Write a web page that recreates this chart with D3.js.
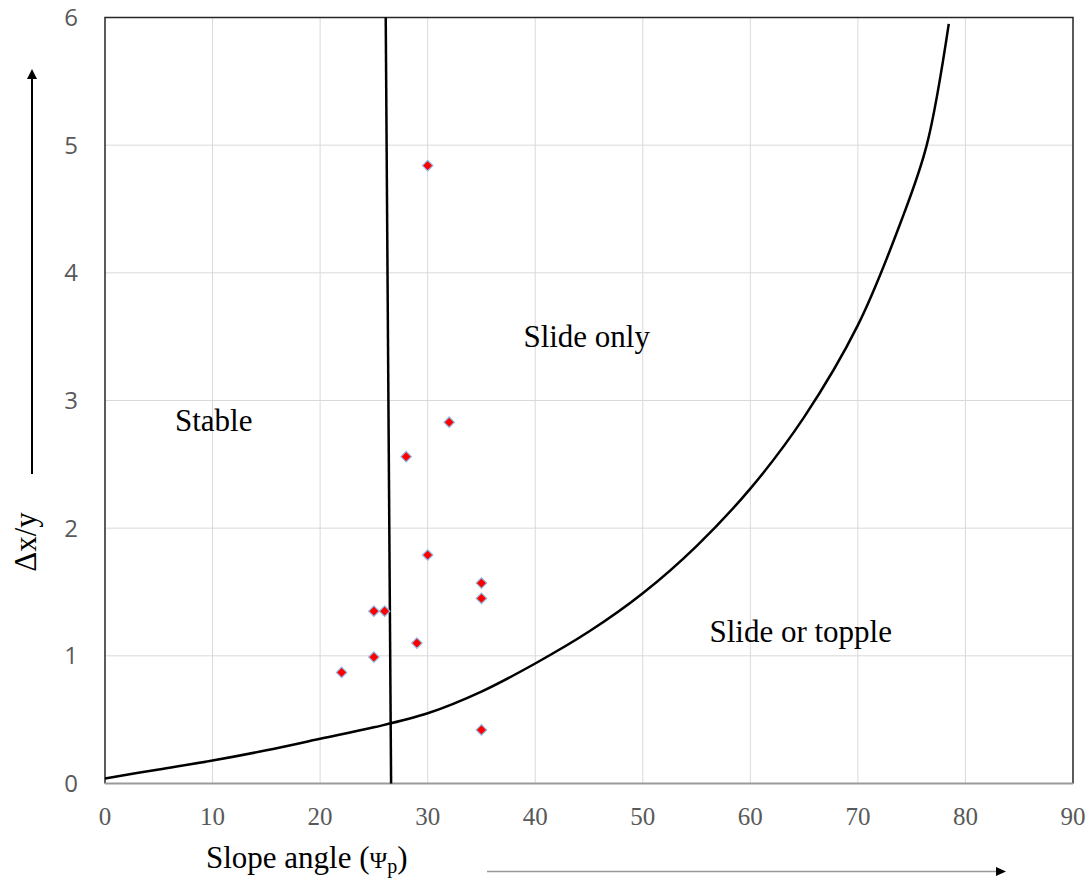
<!DOCTYPE html>
<html lang="en">
<head>
  <meta charset="UTF-8">
  <title>Slope angle vs dx/y</title>
  <script src="https://d3js.org/d3.v7.min.js"></script>
  <style>
    body { margin: 0; background: #fff; }
    svg { display: block; }
  </style>
</head>
<body>
<div id="chart"></div>
<script>
  // measured points (slope angle, dx/y)
  const pointAngles = [30, 32, 28, 30, 35, 35, 25, 26, 29, 25, 22, 35];
  const pointRatios = [4.84, 2.83, 2.56, 1.79, 1.57, 1.45, 1.35, 1.35, 1.10, 0.99, 0.87, 0.42];

  // topple boundary curve
  const curveAngles = [0, 5, 10, 15, 20, 25, 30, 35, 40, 45, 50, 55, 60, 65, 70, 74, 76.4, 78.45];
  const curveRatios = [0.04, 0.11, 0.18, 0.26, 0.35, 0.44, 0.55, 0.72, 0.94, 1.19, 1.49, 1.86, 2.31, 2.87, 3.59, 4.4, 5.0, 5.95];

  // slide boundary (near vertical)
  const slideAngles = [26.6, 26.1];
  const slideRatios = [0, 6];

  const xTicks = [0, 10, 20, 30, 40, 50, 60, 70, 80, 90];
  const yTicks = [0, 1, 2, 3, 4, 5, 6];

  const regionNames = ["Stable", "Slide only", "Slide or topple"];
  const regionAngles = [6.5, 38.9, 56.2];
  const regionRatios = [2.76, 3.42, 1.11];

  const width = 1091, height = 881;
  const margin = {top: 17.5, right: 18, bottom: 97.5, left: 105};

  const svg = d3.select("#chart").append("svg")
    .attr("width", width)
    .attr("height", height);

  const x = d3.scaleLinear().domain([0, 90]).range([margin.left, width - margin.right]);
  const y = d3.scaleLinear().domain([0, 6]).range([height - margin.bottom, margin.top]);

  // gridlines
  svg.append("g")
    .selectAll("line")
    .data(xTicks.slice(1, -1))
    .join("line")
    .attr("x1", d => x(d)).attr("x2", d => x(d))
    .attr("y1", y(0)).attr("y2", y(6))
    .attr("stroke", "#d9d9d9").attr("stroke-width", 1);

  svg.append("g")
    .selectAll("line")
    .data(yTicks.slice(1, -1))
    .join("line")
    .attr("x1", x(0)).attr("x2", x(90))
    .attr("y1", d => y(d)).attr("y2", d => y(d))
    .attr("stroke", "#d9d9d9").attr("stroke-width", 1);

  // plot area border
  svg.append("path")
    .attr("d", `M${x(0)},${y(0)}V${y(6)}H${x(90)}V${y(0)}`)
    .attr("fill", "none")
    .attr("stroke", "#262626")
    .attr("stroke-width", 1.5);

  // x axis line
  svg.append("line")
    .attr("x1", x(0)).attr("x2", x(90))
    .attr("y1", y(0)).attr("y2", y(0))
    .attr("stroke", "#9a9a9a").attr("stroke-width", 2);

  // tick labels
  svg.append("g")
    .selectAll("text")
    .data(xTicks)
    .join("text")
    .attr("x", d => x(d))
    .attr("y", 825)
    .attr("text-anchor", "middle")
    .style("font", "25px 'Liberation Serif', 'Times New Roman', serif")
    .style("fill", "#595959")
    .text(d => d);

  svg.append("g")
    .selectAll("text")
    .data(yTicks)
    .join("text")
    .attr("x", 78)
    .attr("y", d => y(d))
    .attr("dy", "0.36em")
    .attr("text-anchor", "end")
    .style("font", "24px 'Open Sans', sans-serif")
    .style("fill", "#595959")
    .text(d => d);

  // boundary lines
  svg.append("path")
    .datum(d3.zip(slideAngles, slideRatios))
    .attr("d", d3.line().x(d => x(d[0])).y(d => y(d[1])))
    .attr("fill", "none")
    .attr("stroke", "#000")
    .attr("stroke-width", 2.5);

  svg.append("path")
    .datum(d3.zip(curveAngles, curveRatios))
    .attr("d", d3.line().x(d => x(d[0])).y(d => y(d[1])).curve(d3.curveCatmullRom.alpha(0.5)))
    .attr("fill", "none")
    .attr("stroke", "#000")
    .attr("stroke-width", 2.5);

  // points
  svg.append("g")
    .selectAll("path")
    .data(d3.zip(pointAngles, pointRatios))
    .join("path")
    .attr("transform", d => `translate(${x(d[0])},${y(d[1])})`)
    .attr("d", d3.symbol(d3.symbolDiamond2, 70))
    .attr("fill", "#ff0000")
    .attr("stroke", "#8fbbe6")
    .attr("stroke-width", 1.2);

  // region labels
  svg.append("g")
    .selectAll("text")
    .data(d3.range(regionNames.length))
    .join("text")
    .attr("x", i => x(regionAngles[i]))
    .attr("y", i => y(regionRatios[i]))
    .style("font", "31px 'Liberation Serif', 'Times New Roman', serif")
    .style("fill", "#000")
    .text(i => regionNames[i]);

  // axis titles
  const xt = svg.append("text")
    .attr("x", 206)
    .attr("y", 868)
    .style("font", "31px 'Liberation Serif', 'Times New Roman', serif")
    .style("fill", "#000");
  xt.append("tspan").text("Slope angle (");
  xt.append("tspan").style("font-size", "24px").text("Ψ");
  xt.append("tspan").attr("dy", 5).style("font-size", "20px").text("p");
  xt.append("tspan").attr("dy", -5).text(")");

  svg.append("text")
    .attr("transform", "translate(36,542) rotate(-90)")
    .attr("text-anchor", "middle")
    .style("font", "31px 'Liberation Serif', 'Times New Roman', serif")
    .style("fill", "#000")
    .text("Δx/y");

  // direction arrows
  svg.append("line")
    .attr("x1", 32).attr("x2", 32)
    .attr("y1", 474).attr("y2", 78)
    .attr("stroke", "#000").attr("stroke-width", 2);
  svg.append("path")
    .attr("d", "M32,69L27,79L37,79Z")
    .attr("fill", "#000");

  svg.append("line")
    .attr("x1", 487).attr("x2", 997)
    .attr("y1", 871.5).attr("y2", 871.5)
    .attr("stroke", "#999").attr("stroke-width", 1.5);
  svg.append("path")
    .attr("d", "M1006,871.5L996,867L996,876Z")
    .attr("fill", "#000");
</script>
</body>
</html>
